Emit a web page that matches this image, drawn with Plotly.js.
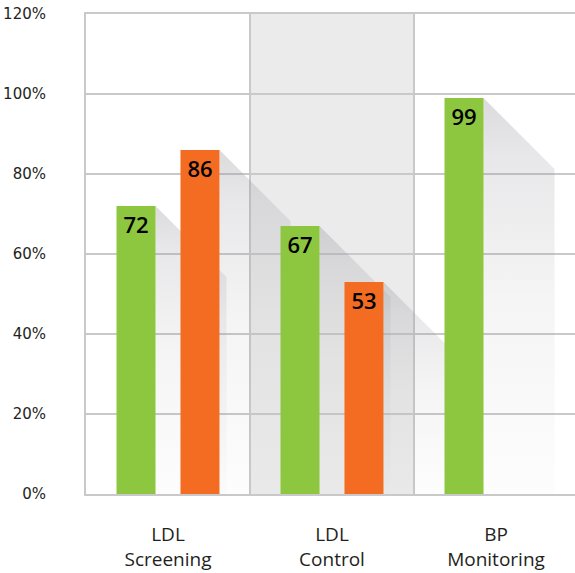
<!DOCTYPE html>
<html>
<head>
<meta charset="utf-8">
<script src="https://cdn.plot.ly/plotly-3.0.1.min.js"></script>
<style>
  html, body { margin: 0; padding: 0; background: #ffffff; }
  #chart { width: 575px; height: 573px; }
</style>
</head>
<body>
<div id="chart"></div>
<script>
// Categories and measured rates (%)
const categories = ['LDL<br>Screening', 'LDL<br>Control', 'BP<br>Monitoring'];
const greenValues = [72, 67, 99];
const orangeValues = [86, 53, null];
const yTickVals = [0, 20, 40, 60, 80, 100, 120];
const yTickText = ['0%', '20%', '40%', '60%', '80%', '100%', '120%'];

const GREEN = '#8dc63f';
const ORANGE = '#f36c22';
const GRID = '#c9c9cb';

// Bar geometry (in category units) shared by bars and their long shadows
const BARGAP = 0.22;
const BARGROUPGAP = 0.39;
const slot = (1 - BARGAP) / 2;
const barWidth = slot * (1 - BARGROUPGAP);
const slotOffsets = [-slot / 2, slot / 2];

// Long-shadow extent: 45 degree diagonal in screen space
const xRange = [-0.5, 2.4817];
const yRange = [0, 120];
const plotW = 575 - 86;
const plotH = 573 - 14 - 79;
const shadowPx = 71;
const shadowDx = shadowPx / (plotW / (xRange[1] - xRange[0]));
const shadowDy = shadowPx / (plotH / (yRange[1] - yRange[0]));

const xPos = categories.map((_, i) => i);

// One gradient-filled polygon per bar, starting at the bar's top-right corner
const shadowTraces = [];
[greenValues, orangeValues].forEach((series, s) => {
  series.forEach((v, i) => {
    if (v === null || v === undefined) return;
    const xr = xPos[i] + slotOffsets[s] + barWidth / 2;
    shadowTraces.push({
      type: 'scatter',
      mode: 'none',
      x: [xr, xr + shadowDx, xr + shadowDx, xr, xr],
      y: [v, v - shadowDy, 0, 0, v],
      fill: 'toself',
      fillgradient: {
        type: 'vertical',
        start: 0,
        stop: v,
        colorscale: [
          [0, 'rgba(150,150,158,0.02)'],
          [0.5, 'rgba(150,150,158,0.10)'],
          [0.85, 'rgba(150,150,158,0.22)'],
          [1, 'rgba(150,150,158,0.34)']
        ]
      },
      hoverinfo: 'skip',
      showlegend: false,
      xaxis: 'x',
      yaxis: 'y'
    });
  });
});

const labelFont = { family: 'Open Sans, sans-serif', size: 22, color: '#000000', weight: 600 };

function barTrace(values, color) {
  return {
    type: 'bar',
    x: xPos,
    y: values,
    text: values.map(v => (v === null ? '' : String(v))),
    textposition: 'inside',
    insidetextanchor: 'end',
    textangle: 0,
    constraintext: 'none',
    insidetextfont: labelFont,
    marker: { color: color, line: { width: 0 } },
    hoverinfo: 'skip',
    showlegend: false,
    xaxis: 'x2',
    yaxis: 'y2'
  };
}

const barTraces = [barTrace(greenValues, GREEN), barTrace(orangeValues, ORANGE)];

const layout = {
  width: 575,
  height: 573,
  margin: { l: 86, r: 0, t: 14, b: 79 },
  paper_bgcolor: '#ffffff',
  plot_bgcolor: 'rgba(0,0,0,0)',
  barmode: 'group',
  bargap: BARGAP,
  bargroupgap: BARGROUPGAP,
  showlegend: false,
  xaxis: {
    type: 'linear',
    range: xRange,
    tickvals: xPos,
    ticktext: categories,
    tickfont: { family: 'Open Sans, sans-serif', size: 19, color: '#231f20' },
    ticks: '',
    ticklabelstandoff: 22,
    showgrid: false,
    zeroline: false,
    showline: true,
    mirror: true,
    linecolor: GRID,
    linewidth: 2,
    fixedrange: true
  },
  yaxis: {
    range: yRange,
    tickvals: yTickVals,
    ticktext: yTickText,
    tickfont: { family: 'DejaVu Sans, sans-serif', size: 15, color: '#231f20' },
    ticks: '',
    ticklabelstandoff: 35,
    showgrid: true,
    gridcolor: GRID,
    gridwidth: 2,
    zeroline: false,
    showline: true,
    linecolor: GRID,
    linewidth: 2,
    fixedrange: true
  },
  xaxis2: {
    type: 'linear',
    range: xRange,
    overlaying: 'x',
    visible: false,
    fixedrange: true
  },
  yaxis2: {
    range: yRange,
    overlaying: 'y',
    visible: false,
    fixedrange: true
  },
  shapes: [
    {
      type: 'rect', xref: 'x', yref: 'paper',
      x0: 0.5, x1: 1.5, y0: 0, y1: 1,
      fillcolor: '#ebebeb', line: { width: 0 }, layer: 'below'
    },
    {
      type: 'line', xref: 'x', yref: 'paper',
      x0: 0.5, x1: 0.5, y0: 0, y1: 1,
      line: { color: GRID, width: 2 }, layer: 'between'
    },
    {
      type: 'line', xref: 'x', yref: 'paper',
      x0: 1.5, x1: 1.5, y0: 0, y1: 1,
      line: { color: GRID, width: 2 }, layer: 'between'
    }
  ]
};

Plotly.newPlot('chart', shadowTraces.concat(barTraces), layout, { displayModeBar: false, staticPlot: true });
</script>
</body>
</html>
